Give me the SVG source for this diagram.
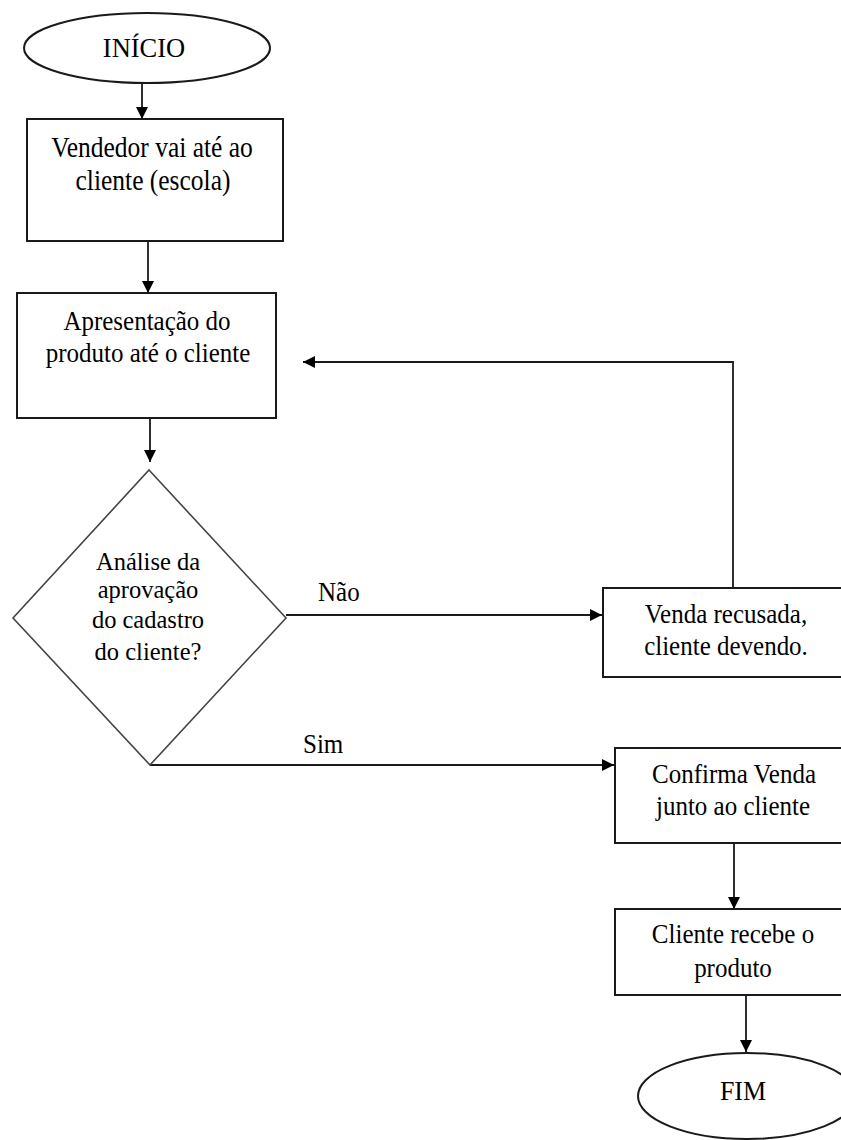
<svg xmlns="http://www.w3.org/2000/svg" width="841" height="1140" viewBox="0 0 841 1140">
<style>
.shape{fill:#fff;stroke:#1a1a1a;stroke-width:2}
.dia{fill:#fff;stroke:#444;stroke-width:1.6}
.conn{fill:none;stroke:#1a1a1a;stroke-width:1.8}
.t{font-family:"Liberation Serif","Times New Roman",serif;font-size:25px;fill:#000;text-anchor:middle}
.l{font-family:"Liberation Serif","Times New Roman",serif;font-size:25px;fill:#000}
</style>
<defs>
<marker id="ah" markerUnits="userSpaceOnUse" markerWidth="14" markerHeight="12" refX="12" refY="6" orient="auto">
<path d="M0,0 L12,6 L0,12 Z" fill="#000"/>
</marker>
</defs>
<rect width="841" height="1140" fill="#fff"/>
<g id="connectors">
<path class="conn" d="M142,83 V119" marker-end="url(#ah)"/>
<path class="conn" d="M148,241 V293" marker-end="url(#ah)"/>
<path class="conn" d="M150,418 V462" marker-end="url(#ah)"/>
<path class="conn" d="M286,615 H602" marker-end="url(#ah)"/>
<path class="conn" d="M733,588 V362 H303" marker-end="url(#ah)"/>
<path class="conn" d="M150,765 H614" marker-end="url(#ah)"/>
<path class="conn" d="M734,843 V909" marker-end="url(#ah)"/>
<path class="conn" d="M746,995 V1052" marker-end="url(#ah)"/>
<text class="l" transform="translate(318,601) scale(1,1.1)">Não</text>
<text class="l" transform="translate(303,753) scale(1,1.1)">Sim</text>
</g>
<g id="inicio">
<ellipse class="shape" cx="147" cy="48" rx="123" ry="35"/>
<text class="t" style="font-size:26.5px" transform="translate(144,57) scale(1,1.05)">INÍCIO</text>
</g>
<g id="vendedor">
<rect class="shape" x="27" y="119" width="256" height="122"/>
<text class="t" style="font-size:25.5px" transform="translate(152,157) scale(1,1.15)">Vendedor vai até ao</text>
<text class="t" style="font-size:25.5px" transform="translate(153,190) scale(1,1.15)">cliente (escola)</text>
</g>
<g id="apresentacao">
<rect class="shape" x="17" y="293" width="259" height="125"/>
<text class="t" transform="translate(147,330) scale(1,1.1)">Apresentação  do</text>
<text class="t" transform="translate(148,362) scale(1,1.1)">produto até  o cliente</text>
</g>
<g id="analise">
<path class="dia" d="M149,470 L286,618 L150,765 L13,618 Z"/>
<text class="t" style="font-size:24.5px" x="148" y="570">Análise da</text>
<text class="t" style="font-size:24.5px" x="148" y="598">aprovação</text>
<text class="t" style="font-size:24.5px" x="148" y="628">do cadastro</text>
<text class="t" style="font-size:24.5px" x="148" y="660">do cliente?</text>
</g>
<g id="recusada">
<rect class="shape" x="603" y="588" width="243" height="89"/>
<text class="t" style="font-size:25px" transform="translate(726,623) scale(1,1.1)">Venda recusada,</text>
<text class="t" style="font-size:25px" transform="translate(726,655) scale(1,1.1)">cliente  devendo.</text>
</g>
<g id="confirma">
<rect class="shape" x="615" y="748" width="231" height="95"/>
<text class="t" transform="translate(734,783) scale(1,1.1)">Confirma Venda</text>
<text class="t" transform="translate(733,815) scale(1,1.1)">junto ao cliente</text>
</g>
<g id="recebe">
<rect class="shape" x="615" y="909" width="231" height="86"/>
<text class="t" transform="translate(733,943) scale(1,1.1)">Cliente recebe o</text>
<text class="t" transform="translate(733,977) scale(1,1.1)">produto</text>
</g>
<g id="fim">
<ellipse class="shape" cx="747" cy="1096" rx="109" ry="43"/>
<text class="t" style="font-size:26px" transform="translate(743,1100) scale(1,1.05)">FIM</text>
</g>
</svg>
